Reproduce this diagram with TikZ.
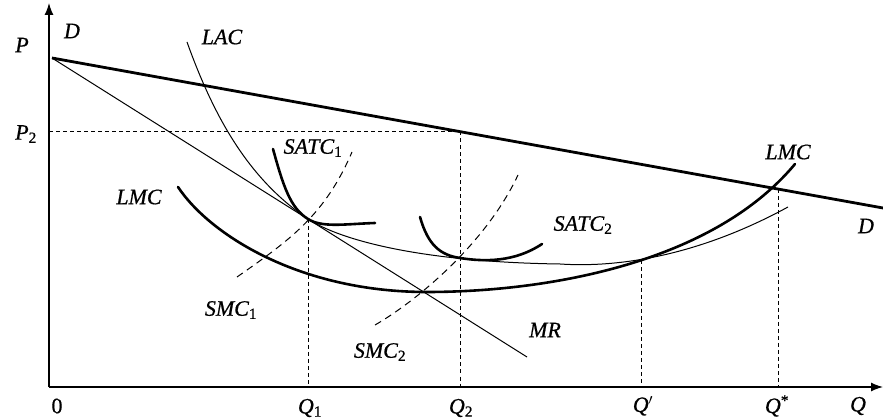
\documentclass[tikz,border=0pt]{standalone}
\usepackage{fontspec}
\setmainfont{Liberation Serif}
\newfontfamily\lblfont{Liberation Serif}[FakeBold=0.7]
\usetikzlibrary{arrows.meta}
\tikzset{
  lbl/.style={font=\lblfont\fontsize{22}{24}\selectfont\itshape, inner sep=0pt},
  thickc/.style={line width=2.6pt, line cap=round},
  thinc/.style={line width=1pt},
  guide/.style={line width=0.9pt, dash pattern=on 4pt off 3pt},
  smc/.style={line width=1pt, dash pattern=on 7pt off 5pt},
  axis/.style={line width=1.3pt, -{Latex[length=12pt,width=9pt]}}
}
\newcommand{\sub}[1]{\textsubscript{\upshape #1}}
\begin{document}
\begin{tikzpicture}[x=1pt,y=-1pt]
\useasboundingbox (0,0) rectangle (883,419);
% key coordinates
\coordinate (O) at (49,387);
\coordinate (Ytop) at (49,3);
\coordinate (Xend) at (883,387);
\coordinate (Dstart) at (52,58);
\coordinate (Dend) at (883,208);
\coordinate (MRend) at (527,357);
\coordinate (A1) at (308,219);
\coordinate (A2) at (460,258);
\coordinate (P2pt) at (460,131.5);
\coordinate (P2ax) at (49,131.5);
\coordinate (Qp) at (641,260);
\coordinate (Qs) at (778,189);
\coordinate (Q1b) at (308,387);
\coordinate (Q2b) at (460,387);
\coordinate (Qpb) at (641,387);
\coordinate (Qsb) at (778,387);
\coordinate (Lmin) at (427,292);

% axes
\draw[axis] (O) -- (Ytop);
\draw[axis] (O) -- (Xend);

% guides
\draw[guide] (P2ax) -- (P2pt);
\draw[guide] (A1) -- (Q1b);
\draw[guide] (P2pt) -- (Q2b);
\draw[guide] (Qp) -- (Qpb);
\draw[guide] (Qs) -- (Qsb);

% demand and MR
\draw[line width=2.8pt] (Dstart) -- (Dend);
\draw[thinc] (Dstart) -- (MRend);

% LAC
\draw[thinc] (187,42) .. controls (215,120) and (250,180) .. (A1)
  .. controls (340,240) and (420,262) .. (560,264)
  .. controls (620,268) and (700,255) .. (788,207);

% LMC
\draw[thickc] (178,187) .. controls (210,235) and (300,292) .. (Lmin)
  .. controls (540,292) and (710,266) .. (795,164);

% SATC1
\draw[thickc] (273,149) .. controls (283,185) and (290,208) .. (A1)
  .. controls (322,228) and (345,224) .. (375,223);
% SMC1
\draw[smc] (237,277) .. controls (290,240) and (325,215) .. (352,152);

% SATC2
\draw[thickc] (420,217) .. controls (428,245) and (440,255) .. (A2)
  .. controls (485,262) and (515,262) .. (542,244);
% SMC2
\draw[smc] (375,325) .. controls (415,302) and (485,245) .. (518,175);

% labels
\node[lbl] (lP) at (22,45) {P};
\node[lbl] (lD1) at (72,31) {D};
\node[lbl] (lP2) at (26,134) {P\sub{2}};
\node[lbl] (lLAC) at (222,37) {LAC};
\node[lbl] (lSATC1) at (313,148) {SATC\sub{1}};
\node[lbl] (lLMC1) at (139,197) {LMC};
\node[lbl] (lSATC2) at (583,225) {SATC\sub{2}};
\node[lbl] (lLMC2) at (788,152) {LMC};
\node[lbl] (lD2) at (866,226) {D};
\node[lbl] (lSMC1) at (231,310) {SMC\sub{1}};
\node[lbl] (lSMC2) at (380,352) {SMC\sub{2}};
\node[lbl] (lMR) at (545,330) {MR};
\node[lbl, font=\lblfont\fontsize{22}{24}\selectfont] (l0) at (57,406) {0};
\node[lbl] (lQ1) at (310,408) {Q\sub{1}};
\node[lbl] (lQ2) at (461,408) {Q\sub{2}};
\node[lbl] (lQp) at (643,406) {Q$'$};
\node[lbl] (lQs) at (777,406) {Q\textsuperscript{\upshape *}};
\node[lbl] (lQ) at (858,406) {Q};
\end{tikzpicture}
\end{document}
